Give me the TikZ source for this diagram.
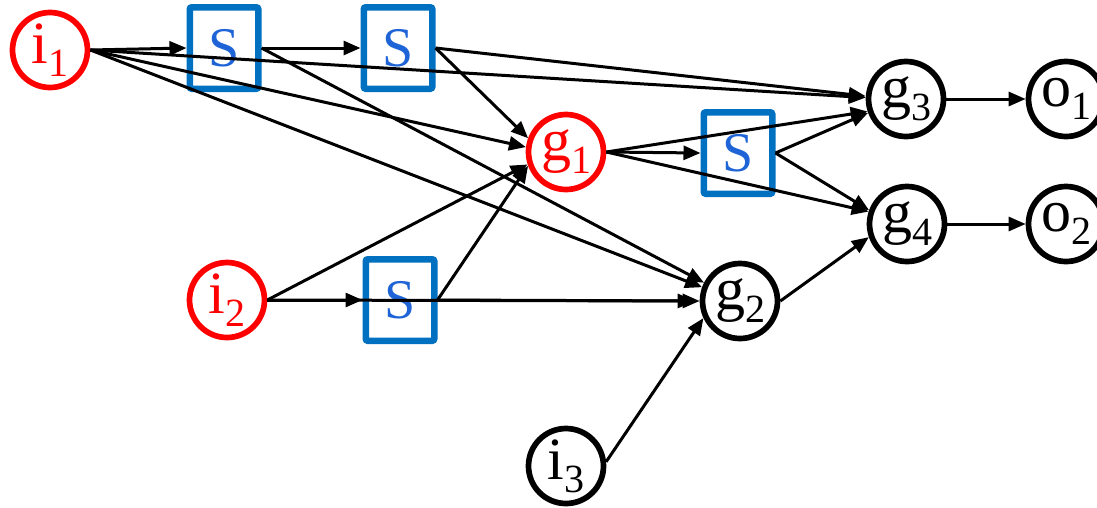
\documentclass[tikz,border=0pt]{standalone}
\usepackage{fontspec}
\setmainfont{Liberation Serif}
\newfontfamily\tnr{Liberation Serif}
\usetikzlibrary{arrows.meta}
\definecolor{nred}{RGB}{255,0,0}
\definecolor{boxblue}{RGB}{0,112,192}
\definecolor{sblue}{RGB}{30,100,215}
\newcommand\lab[2]{#1\raisebox{-13pt}{\fontsize{40}{40}\selectfont #2}}
\begin{document}
\begin{tikzpicture}[x=1pt,y=-1pt,
  gate/.style={circle,draw,line width=5.7pt,minimum size=75pt,inner sep=0pt,font=\tnr\fontsize{60}{60}\selectfont},
  redgate/.style={gate,draw=nred,text=nred},
  sbox/.style={rectangle,draw=boxblue,line width=6.5pt,rounded corners=2pt,minimum width=68.5pt,minimum height=81.5pt,inner sep=0pt,text=sblue,font=\tnr\fontsize{56}{56}\selectfont},
  conn/.style={line width=3pt,-{Triangle[length=17pt,width=14pt]}}]
\useasboundingbox (0,0) rectangle (1097,507);
\node[redgate] (i1) at (50,50) {\lab{i}{1}};
\node[sbox] (S1) at (224,48) {S};
\node[sbox] (S2) at (398,48) {S};
\node[redgate] (g1) at (566,152) {\lab{g}{1}};
\node[sbox] (S3) at (738,153) {S};
\node[gate] (g3) at (906,99) {\lab{g}{3}};
\node[gate] (o1) at (1066,99) {\lab{o}{1}};
\node[gate] (g4) at (907,224) {\lab{g}{4}};
\node[gate] (o2) at (1066,224) {\lab{o}{2}};
\node[redgate] (i2) at (227,300) {\lab{i}{2}};
\node[sbox] (S4) at (400,300) {S};
\node[gate] (g2) at (740,301) {\lab{g}{2}};
\node[gate] (i3) at (566,466) {\lab{i}{3}};
% connectors
\draw[conn] (i1.east) -- (S1.west);
\draw[conn] (i1.east) -- (g3.178);
\draw[conn] (i1.east) -- (g1.173);
\draw[conn] (i1.east) -- (g2.160);
\draw[conn] (S1.east) -- (S2.west);
\draw[conn] (S1.east) -- (g2.153);
\draw[conn] (S2.east) -- (g3.176);
\draw[conn] (S2.east) -- (g1.160);
\draw[conn] (i2.east) -- (g1.198);
\draw[conn] (i2.east) -- (S4.west);
\draw[conn,shorten >=5pt] (i2.east) -- (g2.west);
\draw[conn] (S4.east) -- (g1.200);
\draw[conn] (S4.east) -- (g2.west);
\draw[conn] (i3.6) -- (g2.205);
\draw[conn] (g2.east) -- (g4.199);
\draw[conn] (g1.east) -- (S3.west);
\draw[conn] (g1.east) -- (g3.198);
\draw[conn] (g1.east) -- (g4.162);
\draw[conn] (S3.east) -- (g3.200);
\draw[conn] (S3.east) -- (g4.160);
\draw[conn] (g3.east) -- (o1.west);
\draw[conn] (g4.east) -- (o2.west);
\end{tikzpicture}
\end{document}
